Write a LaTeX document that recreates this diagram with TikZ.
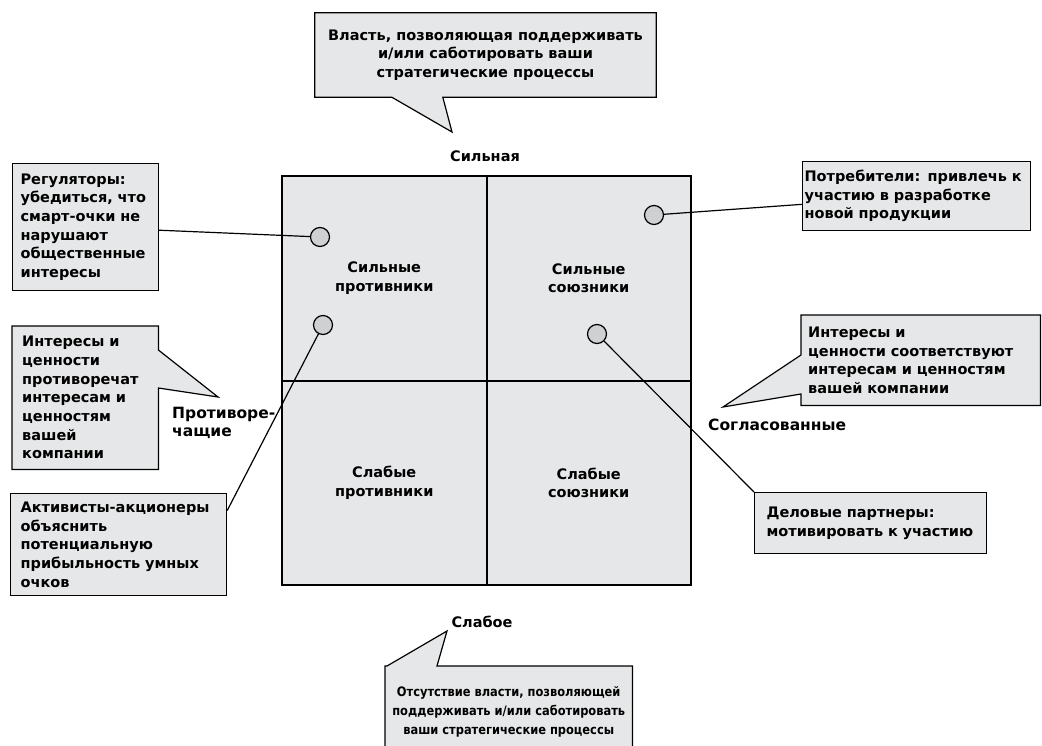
\documentclass[tikz,border=0pt]{standalone}
\usepackage{fontspec}
\setmainfont{DejaVu Sans}
\newfontfamily\narrowfont{DejaVu Sans}[FakeStretch=0.88]
\usetikzlibrary{calc, backgrounds}
\definecolor{boxgray}{HTML}{E6E7E8}
\definecolor{dotgray}{HTML}{CFD0D2}

\begin{document}
\begin{tikzpicture}[x=1pt, y=-1pt,
    every node/.style={font=\bfseries\fontsize{14.5}{18.7}\selectfont},
    box/.style={draw, line width=1.2pt, fill=boxgray, align=left, anchor=north west, inner ysep=0pt},
    tbox/.style={inner ysep=0pt},
    call/.style={draw, line width=1.2pt, fill=boxgray},
    quad/.style={draw, line width=2pt, fill=boxgray, minimum size=204.5pt, inner sep=0pt, align=center},
    dot/.style={circle, draw, line width=1.2pt, fill=dotgray, minimum size=19pt, inner sep=0pt},
    axis/.style={inner sep=0pt, font=\bfseries\fontsize{15.5}{18}\selectfont},
    link/.style={line width=1.2pt},
]
    \useasboundingbox (0,0) rectangle (1042,745);
    \clip (0,0) rectangle (1042,745);

    % the four quadrants
    \node[quad] (sp) at (384.25,278.25) {Сильные\\противники};
    \node[quad] (ss) at (588.75,278.25) {Сильные\\союзники};
    \node[quad] (wp) at (384.25,482.75) {Слабые\\противники};
    \node[quad] (ws) at (588.75,482.75) {Слабые\\союзники};

    % axis labels
    \node (strong) at (485,156) {Сильная};
    \node (weak) at (482,622) {Слабое};
    \node[axis, anchor=west, align=left] (contra) at (172,423) {Противоре-\\чащие};
    \node[axis, anchor=west] (agreed) at (708,425) {Согласованные};

    % stakeholders
    \node[dot] (c1) at (320,237) {};
    \node[dot] (c2) at (323,325) {};
    \node[dot] (c3) at (654,215) {};
    \node[dot] (c4) at (597,334) {};

    \node[box, inner xsep=8pt, text width=130pt, minimum height=127pt] (reg) at (12,163)
        {Регуляторы:\\убедиться, что\\смарт-очки не\\нарушают\\общественные\\интересы};
    \node[box, inner xsep=10pt, text width=196pt, minimum height=102pt] (act) at (10,493)
        {Активисты-акционеры\\объяснить\\потенциальную\\прибыльность умных\\очков};
    \node[box, inner xsep=2pt, text width=224pt, minimum height=69pt] (cons) at (802,161)
        {Потребители: привлечь к\\участию в разработке\\новой продукции};
    \node[box, inner xsep=12pt, text width=208pt, minimum height=61pt] (part) at (754,492)
        {Деловые партнеры:\\мотивировать к участию};

    \draw[link] (reg) -- (c1);
    \draw[link] ($(act.north east)!0.17!(act.south east)$) -- (c2);
    \draw[link] (cons) -- (c3);
    \draw[link] (part.north west) -- (c4);

    % callouts
    \node[tbox, align=center, minimum width=341pt, minimum height=84pt] (pwr) at (485.5,55)
        {Власть, позволяющая поддерживать\\и/или саботировать ваши\\стратегические процессы};
    \node[tbox, align=left, anchor=north west, inner xsep=10pt, text width=126pt, minimum height=143pt] (opp) at (12,326)
        {Интересы и\\ценности\\противоречат\\интересам и\\ценностям\\вашей\\компании};
    \node[tbox, align=left, anchor=north west, inner xsep=7pt, text width=225pt, minimum height=90pt] (sup) at (801,315)
        {Интересы и\\ценности соответствуют\\интересам и ценностям\\вашей компании};
    \node[tbox, align=center, anchor=north west, minimum width=247pt, minimum height=92pt,
        font=\narrowfont\bfseries\fontsize{13}{19}\selectfont] (nopwr) at (385,666)
        {Отсутствие власти, позволяющей\\поддерживать и/или саботировать\\ваши стратегические процессы};

    \coordinate (pwrtip) at (452,132);
    \coordinate (opptip) at (218,397);
    \coordinate (suptip) at (723,407);
    \coordinate (nopwrtip) at (447,631);

    \begin{scope}[on background layer]
        \draw[call] (pwr.north west) -- (pwr.north east) -- (pwr.south east)
            -- ($(pwr.south west)+(128,0)$) -- (pwrtip) -- ($(pwr.south west)+(77,0)$)
            -- (pwr.south west) -- cycle;
        \draw[call] (opp.north west) -- (opp.north east) -- ($(opp.north east)+(0,24)$) -- (opptip)
            -- ($(opp.north east)+(0,62)$) -- (opp.south east) -- (opp.south west) -- cycle;
        \draw[call] (sup.north west) -- (sup.north east) -- (sup.south east) -- (sup.south west)
            -- ($(sup.north west)+(0,79)$) -- (suptip) -- ($(sup.north west)+(0,40)$) -- cycle;
        \draw[call] (nopwr.north west) -- ($(nopwr.north west)+(2,0)$) -- (nopwrtip)
            -- ($(nopwr.north west)+(52,0)$) -- (nopwr.north east) -- (nopwr.south east)
            -- (nopwr.south west) -- cycle;
    \end{scope}
\end{tikzpicture}
\end{document}
